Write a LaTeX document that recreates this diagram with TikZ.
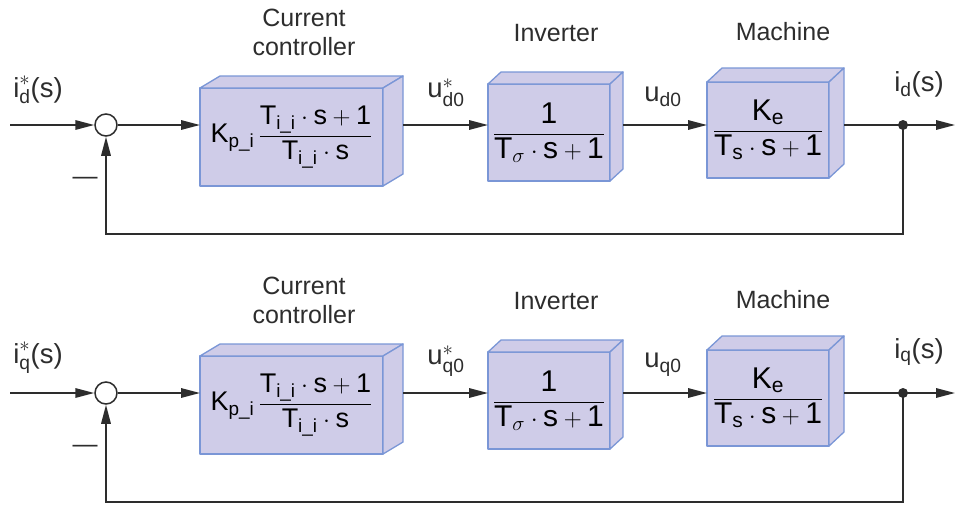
\documentclass[tikz,border=0pt]{standalone}
\usepackage{amsmath}
\usepackage{fontspec}
\setmainfont{Liberation Sans}
\usetikzlibrary{arrows.meta,calc}
\definecolor{boxfill}{RGB}{207,204,232}
\definecolor{boxedge}{RGB}{122,150,214}
\definecolor{ln}{RGB}{45,45,45}
\newcommand\cubefaces[3]{%
  \draw[face] (#1.north west) -- ++(#2,-#3) -- ($(#1.north east)+(#2,-#3)$) -- (#1.north east) -- cycle;
  \draw[face] (#1.north east) -- ($(#1.north east)+(#2,-#3)$) -- ($(#1.south east)+(#2,-#3)$) -- (#1.south east) -- cycle;
  \coordinate (#1o) at ($(#1.east)+(#2,0)$);}
\begin{document}
\begin{tikzpicture}[x=1pt,y=-1pt,
  face/.style={fill=boxfill, draw=boxedge, line width=1.3pt, line join=round},
  front/.style={face, inner sep=0pt, outer sep=0pt, anchor=north west, font=\fontsize{30}{34}\selectfont},
  ctrl/.style={front, font=\fontsize{27}{30}\selectfont},
  title/.style={align=center, font=\fontsize{25}{29}\selectfont, text=ln},
  lbl/.style={font=\fontsize{27.5}{30}\selectfont, text=ln},
  minusmark/.style={font=\fontsize{25}{28}\selectfont, text=ln},
  sum/.style={circle, draw=ln, line width=1.5pt, minimum size=22pt, inner sep=0pt},
  dotmark/.style={circle, fill=ln, minimum size=10pt, inner sep=0pt},
  arr/.style={draw=ln, line width=1.6pt, -{Triangle[length=19pt,width=9.5pt]}},
  wire/.style={draw=ln, line width=1.6pt}]
\useasboundingbox (0,0) rectangle (960,511);
\foreach \r/\oy in {d/0,q/268}{
\begin{scope}[shift={(0,\oy)}]
  \node[title] (tc\r) at (304,32) {Current\\controller};
  \node[title] (ti\r) at (556,33) {Inverter};
  \node[title] (tm\r) at (783,32) {Machine};
  \coordinate (in\r) at (10,125);
  \node[sum] (s\r) at (106,125) {};
  \node[ctrl, minimum width=183pt, minimum height=98pt] (c\r) at (200,88)
    {$\text{K}_{\text{p\_i}}\,\dfrac{\text{T}_{\text{i\_i}}\cdot\text{s}+\text{1}}{\text{T}_{\text{i\_i}}\cdot\text{s}}$};
  \cubefaces{c\r}{20}{12}
  \node[front, minimum width=122pt, minimum height=97pt] (v\r) at (488,84)
    {$\dfrac{\text{1}}{\text{T}_{\sigma}\cdot\text{s}+\text{1}}$};
  \cubefaces{v\r}{13}{12}
  \node[front, minimum width=122pt, minimum height=96pt] (m\r) at (707,82)
    {$\dfrac{\text{K}_{\text{e}}}{\text{T}_{\text{s}}\cdot\text{s}+\text{1}}$};
  \cubefaces{m\r}{15}{14}
  \coordinate (out\r) at (955,125);
  \coordinate (fb\r) at (0,234);
  \node[lbl] (li\r) at (38,90) {$\text{i}^{*}_{\text{\r}}\text{(s)}$};
  \node[lbl] (lu\r) at (446,93) {$\text{u}^{*}_{\text{\r0}}$};
  \node[lbl] (lv\r) at (663,97) {$\text{u}_{\text{\r0}}$};
  \node[lbl] (lo\r) at (919,84) {$\text{i}_{\text{\r}}\text{(s)}$};
  \node[minusmark] (mn\r) at (85,181) {—};
  \draw[arr] (in\r) -- (s\r);
  \draw[arr] (s\r) -- (s\r -| c\r.west);
  \draw[arr] (c\r o |- s\r) -- (s\r -| v\r.west);
  \draw[arr] (v\r o |- s\r) -- (s\r -| m\r.west);
  \draw[arr] (m\r o |- s\r) -- (out\r);
  \node[dotmark] (n\r) at (903,125) {};
  \draw[arr] (n\r.center) -- (n\r |- fb\r) -- (s\r |- fb\r) -- (s\r);
\end{scope}}
\end{tikzpicture}
\end{document}
